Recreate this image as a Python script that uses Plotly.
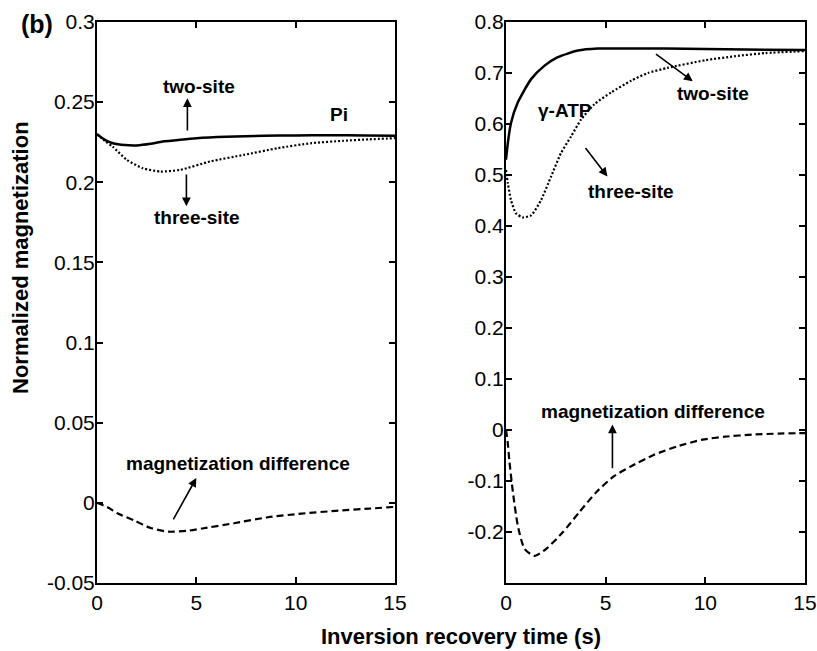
import plotly.graph_objects as go

# ---- Pi panel (left) ----
pi_t_two = [0, 0.4, 0.8, 1.4, 2.0, 2.7, 3.3, 4.2, 5.0, 6.5, 8.4, 10.0, 11.7, 13.5, 15]
pi_two = [0.2300, 0.2265, 0.2244, 0.2232, 0.2230, 0.2240, 0.2254, 0.2266, 0.2275, 0.2284,
          0.2290, 0.2292, 0.2294, 0.2292, 0.2290]

pi_t_three = [0, 0.4, 0.8, 1.5, 2.3, 3.2, 4.2, 5.7, 7.4, 9.1, 10.8, 12.4, 13.7, 15]
pi_three = [0.2300, 0.2258, 0.2221, 0.2140, 0.2088, 0.2067, 0.2078, 0.2130, 0.2171, 0.2213,
            0.2244, 0.2259, 0.2268, 0.2275]

pi_t_diff = [0, 0.5, 1.05, 1.87, 2.7, 3.6, 4.5, 5.3, 6.9, 8.6, 10.3, 12.0, 13.7, 15]
pi_diff = [0.0, -0.0025, -0.0067, -0.0110, -0.0157, -0.0180, -0.0175, -0.0160, -0.0127,
           -0.0090, -0.0067, -0.0050, -0.0036, -0.0025]

# ---- gamma-ATP panel (right) ----
atp_t_two = [0, 0.1, 0.25, 0.59, 1.26, 1.92, 2.6, 3.6, 4.6, 6.0, 8.0, 10.0, 12.0, 15]
atp_two = [0.530, 0.565, 0.602, 0.642, 0.688, 0.714, 0.731, 0.744, 0.748, 0.748, 0.748,
           0.747, 0.746, 0.745]

atp_t_three = [0, 0.09, 0.25, 0.5, 0.84, 1.26, 1.76, 2.26, 2.76, 3.27, 3.77, 4.44, 5.28,
               6.28, 7.12, 8.1, 10.0, 11.5, 13.0, 15]
atp_three = [0.510, 0.484, 0.451, 0.425, 0.417, 0.421, 0.451, 0.497, 0.543, 0.576, 0.609,
             0.639, 0.662, 0.685, 0.700, 0.710, 0.725, 0.733, 0.739, 0.743]

atp_t_diff = [0, 0.08, 0.17, 0.34, 0.59, 0.93, 1.43, 2.02, 2.86, 3.7, 4.55, 5.4, 6.23, 7.4,
              8.6, 9.85, 11.0, 12.4, 13.7, 15]
atp_diff = [0.0, -0.022, -0.061, -0.120, -0.187, -0.233, -0.247, -0.233, -0.200, -0.160,
            -0.121, -0.091, -0.072, -0.049, -0.032, -0.019, -0.013, -0.009, -0.007, -0.006]

x_ticks = [0, 5, 10, 15]
pi_yticks = [-0.05, 0, 0.05, 0.1, 0.15, 0.2, 0.25, 0.3]
pi_ylabels = ["-0.05", "0", "0.05", "0.1", "0.15", "0.2", "0.25", "0.3"]
atp_yticks = [-0.2, -0.1, 0, 0.1, 0.2, 0.3, 0.4, 0.5, 0.6, 0.7, 0.8]
atp_ylabels = ["-0.2", "-0.1", "0", "0.1", "0.2", "0.3", "0.4", "0.5", "0.6", "0.7", "0.8"]

W, H = 817, 651
FONT = "Liberation Sans, Arial, sans-serif"

fig = go.Figure()

def add_curves(t2, v2, t3, v3, td, vd, xa, ya):
    fig.add_trace(go.Scatter(x=t2, y=v2, mode="lines", xaxis=xa, yaxis=ya,
                             line=dict(color="black", width=2.5, shape="spline", smoothing=0.6)))
    fig.add_trace(go.Scatter(x=t3, y=v3, mode="lines", xaxis=xa, yaxis=ya,
                             line=dict(color="black", width=2.2, dash="2px,2px",
                                       shape="spline", smoothing=0.6)))
    fig.add_trace(go.Scatter(x=td, y=vd, mode="lines", xaxis=xa, yaxis=ya,
                             line=dict(color="black", width=2.2, dash="7px,4px",
                                       shape="spline", smoothing=0.6)))

add_curves(pi_t_two, pi_two, pi_t_three, pi_three, pi_t_diff, pi_diff, "x", "y")
add_curves(atp_t_two, atp_two, atp_t_three, atp_three, atp_t_diff, atp_diff, "x2", "y2")

ydom = [1 - 583 / H, 1 - 22 / H]
axis_common = dict(showline=True, linecolor="black", linewidth=2, mirror="ticks",
                   ticks="inside", ticklen=6, tickwidth=2, tickcolor="black",
                   showgrid=False, zeroline=False, automargin=False,
                   ticklabeloverflow="allow",
                   tickfont=dict(family=FONT, size=21, color="black"))

fig.update_layout(
    width=W, height=H, margin=dict(l=0, r=0, t=0, b=0),
    paper_bgcolor="white", plot_bgcolor="white", showlegend=False,
    xaxis=dict(domain=[97 / W, 395 / W], range=[0, 15], tickvals=x_ticks, anchor="y",
               **axis_common),
    yaxis=dict(domain=ydom, range=[-0.05, 0.3], tickvals=pi_yticks, ticktext=pi_ylabels,
               anchor="x", ticklabelstandoff=-4, **axis_common),
    xaxis2=dict(domain=[506 / W, 805 / W], range=[0, 15], tickvals=x_ticks, anchor="y2",
                **axis_common),
    yaxis2=dict(domain=ydom, range=[-0.3, 0.8], tickvals=atp_yticks, ticktext=atp_ylabels,
                anchor="x2", ticklabelstandoff=-4, **axis_common),
)

ann_font = dict(family=FONT, size=19, color="black")

def label(text, x, y, xref, yref):
    fig.add_annotation(text="<b>%s</b>" % text, x=x, y=y, xref=xref, yref=yref,
                       xanchor="center", yanchor="middle", showarrow=False, font=ann_font)

def arrow(x_head, y_head, x_tail, y_tail, xref, yref):
    fig.add_annotation(text="", x=x_head, y=y_head, ax=x_tail, ay=y_tail,
                       xref=xref, yref=yref, axref=xref, ayref=yref,
                       showarrow=True, arrowhead=2, arrowsize=1.1, arrowwidth=1.6,
                       arrowcolor="black")

# Pi panel labels
label("two-site", 5.15, 0.260, "x", "y")
arrow(4.55, 0.2525, 4.55, 0.2314, "x", "y")
label("Pi", 12.2, 0.2424, "x", "y")
label("three-site", 5.05, 0.1778, "x", "y")
arrow(4.5, 0.1850, 4.5, 0.2058, "x", "y")
label("magnetization difference", 7.1, 0.0243, "x", "y")
arrow(5.0, 0.0155, 3.8, -0.0113, "x", "y")

# gamma-ATP panel labels
label("\u03b3-ATP", 2.97, 0.627, "x2", "y2")
label("two-site", 10.4, 0.660, "x2", "y2")
arrow(9.37, 0.684, 7.45, 0.739, "x2", "y2")
label("three-site", 6.25, 0.467, "x2", "y2")
arrow(5.09, 0.497, 3.93, 0.556, "x2", "y2")
label("magnetization difference", 7.35, 0.036, "x2", "y2")
arrow(5.34, 0.011, 5.34, -0.078, "x2", "y2")

# Panel tag and shared axis titles
def paper_text(text, xpx, ypx, size, angle=0):
    fig.add_annotation(text=text, x=xpx / W, y=1 - ypx / H, xref="paper", yref="paper",
                       xanchor="center", yanchor="middle", textangle=angle,
                       showarrow=False, font=dict(family=FONT, size=size, color="black"))

paper_text("<b>(b)</b>", 37, 24, 25)
paper_text("<b>Normalized magnetization</b>", 20, 258, 22, angle=-90)
paper_text("<b>Inversion recovery time (s)</b>", 461, 636, 22)

fig.write_html("out.html")
